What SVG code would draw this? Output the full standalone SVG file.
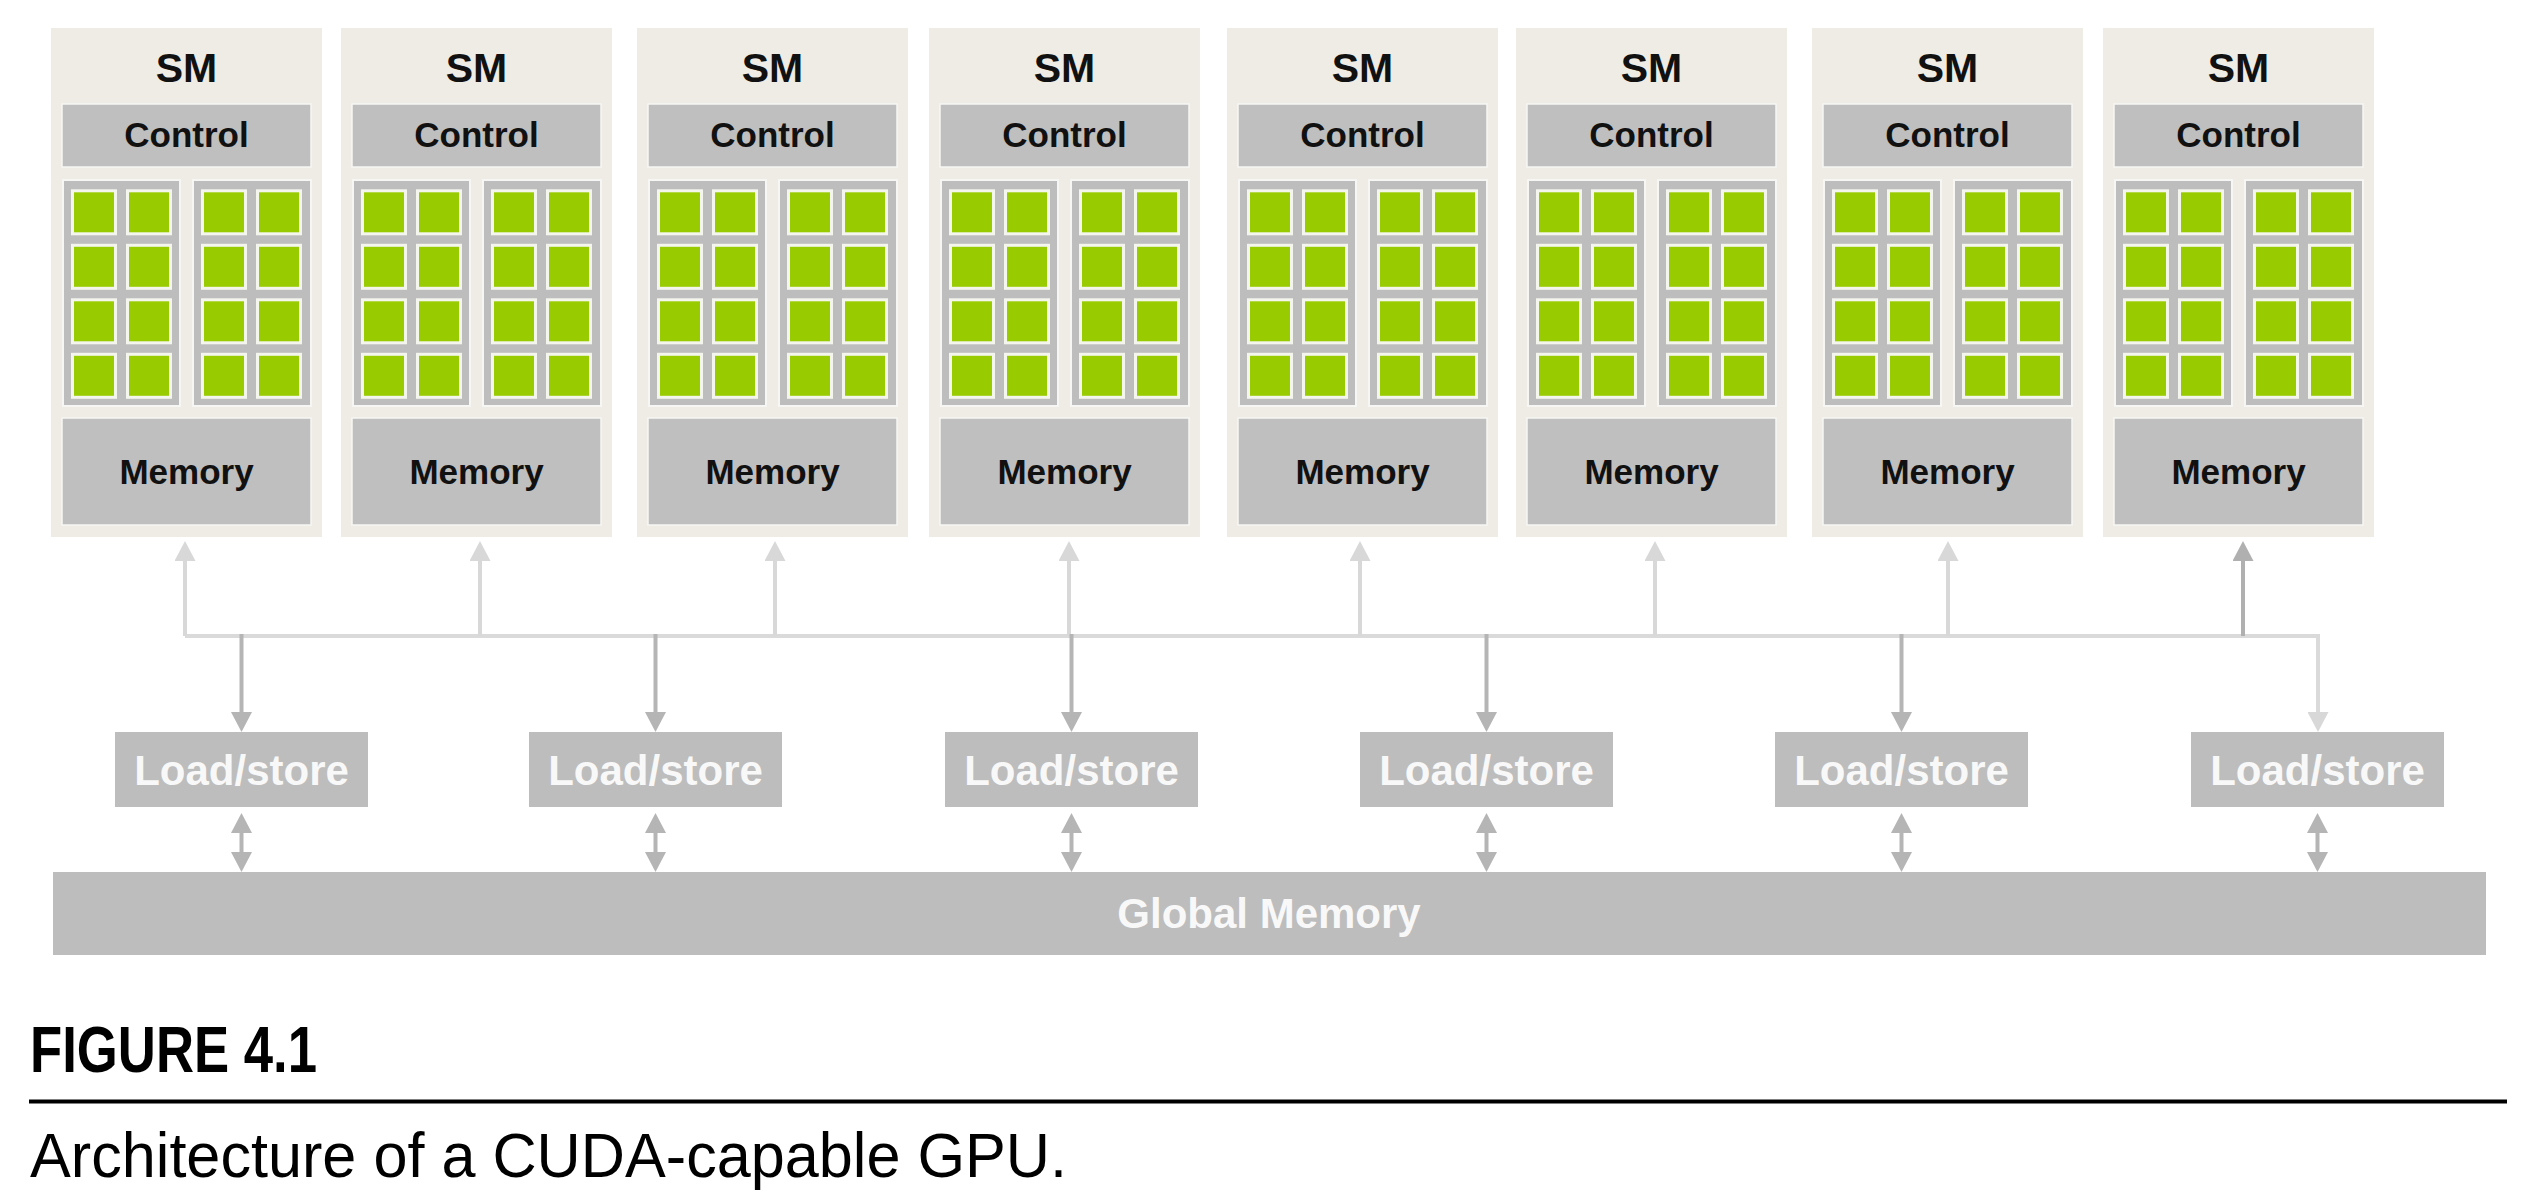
<svg xmlns="http://www.w3.org/2000/svg" xmlns:xlink="http://www.w3.org/1999/xlink" width="2532" height="1199" viewBox="0 0 2532 1199">
<style>
.smbg{fill:#eeece4;}
.blk{fill:#bfbfbf;stroke:#f6f6f4;stroke-width:1.5;}
.grp{fill:#bdbdbd;stroke:#f6f6f4;stroke-width:2;}
.core{fill:#99cc00;stroke:#f4f6ee;stroke-width:3;}
.t{font-family:"Liberation Sans",Arial,sans-serif;font-weight:bold;text-anchor:middle;fill:#111111;}
.sm{font-size:41px;}
.lbl{font-size:35px;}
.ls{fill:#bdbdbd;}
.lst{font-family:"Liberation Sans",Arial,sans-serif;font-weight:bold;font-size:42px;text-anchor:middle;fill:#f8f8f8;}
.up{stroke:#d8d8d8;stroke-width:4;fill:none;}
.updark{stroke:#b0b0b0;stroke-width:4;fill:none;}
.down{stroke:#b5b5b5;stroke-width:4;fill:none;}
.bus{stroke:#dadada;stroke-width:4;fill:none;}
.cap{font-family:"Liberation Sans",Arial,sans-serif;fill:#000000;}
</style>
<defs>
<marker id="ahLight" viewBox="0 0 20 21" refX="0" refY="10.5" markerWidth="20" markerHeight="21" markerUnits="userSpaceOnUse" orient="auto-start-reverse"><path d="M0,0 L20,10.5 L0,21 z" fill="#d8d8d8"/></marker>
<marker id="ahDark" viewBox="0 0 20 21" refX="0" refY="10.5" markerWidth="20" markerHeight="21" markerUnits="userSpaceOnUse" orient="auto-start-reverse"><path d="M0,0 L20,10.5 L0,21 z" fill="#b0b0b0"/></marker>
<marker id="ahMid" viewBox="0 0 20 21" refX="0" refY="10.5" markerWidth="20" markerHeight="21" markerUnits="userSpaceOnUse" orient="auto-start-reverse"><path d="M0,0 L20,10.5 L0,21 z" fill="#b5b5b5"/></marker>
<g id="coreCol">
<rect class="core" x="0" y="190.8" width="43" height="43"/>
<rect class="core" x="0" y="245.3" width="43" height="43"/>
<rect class="core" x="0" y="299.8" width="43" height="43"/>
<rect class="core" x="0" y="354.3" width="43" height="43"/>
</g>
<g id="cores">
<rect class="grp" x="12" y="180" width="117" height="226"/>
<rect class="grp" x="142" y="180" width="118" height="226"/>
<use xlink:href="#coreCol" x="21.5"/>
<use xlink:href="#coreCol" x="76.5"/>
<use xlink:href="#coreCol" x="151.5"/>
<use xlink:href="#coreCol" x="206.5"/>
</g>
</defs>
<rect x="0" y="0" width="2532" height="1199" fill="#ffffff"/>

<g id="sm1" transform="translate(51,0)">
<rect class="smbg" x="0" y="28" width="271" height="509"/>
<text class="t sm" x="135.5" y="82">SM</text>
<rect class="blk" x="11" y="104" width="249" height="63"/>
<text class="t lbl" x="135.5" y="147">Control</text>
<use xlink:href="#cores"/>
<rect class="blk" x="11" y="418" width="249" height="107"/>
<text class="t lbl" x="135.5" y="484">Memory</text>
</g>
<g id="sm2" transform="translate(341,0)">
<rect class="smbg" x="0" y="28" width="271" height="509"/>
<text class="t sm" x="135.5" y="82">SM</text>
<rect class="blk" x="11" y="104" width="249" height="63"/>
<text class="t lbl" x="135.5" y="147">Control</text>
<use xlink:href="#cores"/>
<rect class="blk" x="11" y="418" width="249" height="107"/>
<text class="t lbl" x="135.5" y="484">Memory</text>
</g>
<g id="sm3" transform="translate(637,0)">
<rect class="smbg" x="0" y="28" width="271" height="509"/>
<text class="t sm" x="135.5" y="82">SM</text>
<rect class="blk" x="11" y="104" width="249" height="63"/>
<text class="t lbl" x="135.5" y="147">Control</text>
<use xlink:href="#cores"/>
<rect class="blk" x="11" y="418" width="249" height="107"/>
<text class="t lbl" x="135.5" y="484">Memory</text>
</g>
<g id="sm4" transform="translate(929,0)">
<rect class="smbg" x="0" y="28" width="271" height="509"/>
<text class="t sm" x="135.5" y="82">SM</text>
<rect class="blk" x="11" y="104" width="249" height="63"/>
<text class="t lbl" x="135.5" y="147">Control</text>
<use xlink:href="#cores"/>
<rect class="blk" x="11" y="418" width="249" height="107"/>
<text class="t lbl" x="135.5" y="484">Memory</text>
</g>
<g id="sm5" transform="translate(1227,0)">
<rect class="smbg" x="0" y="28" width="271" height="509"/>
<text class="t sm" x="135.5" y="82">SM</text>
<rect class="blk" x="11" y="104" width="249" height="63"/>
<text class="t lbl" x="135.5" y="147">Control</text>
<use xlink:href="#cores"/>
<rect class="blk" x="11" y="418" width="249" height="107"/>
<text class="t lbl" x="135.5" y="484">Memory</text>
</g>
<g id="sm6" transform="translate(1516,0)">
<rect class="smbg" x="0" y="28" width="271" height="509"/>
<text class="t sm" x="135.5" y="82">SM</text>
<rect class="blk" x="11" y="104" width="249" height="63"/>
<text class="t lbl" x="135.5" y="147">Control</text>
<use xlink:href="#cores"/>
<rect class="blk" x="11" y="418" width="249" height="107"/>
<text class="t lbl" x="135.5" y="484">Memory</text>
</g>
<g id="sm7" transform="translate(1812,0)">
<rect class="smbg" x="0" y="28" width="271" height="509"/>
<text class="t sm" x="135.5" y="82">SM</text>
<rect class="blk" x="11" y="104" width="249" height="63"/>
<text class="t lbl" x="135.5" y="147">Control</text>
<use xlink:href="#cores"/>
<rect class="blk" x="11" y="418" width="249" height="107"/>
<text class="t lbl" x="135.5" y="484">Memory</text>
</g>
<g id="sm8" transform="translate(2103,0)">
<rect class="smbg" x="0" y="28" width="271" height="509"/>
<text class="t sm" x="135.5" y="82">SM</text>
<rect class="blk" x="11" y="104" width="249" height="63"/>
<text class="t lbl" x="135.5" y="147">Control</text>
<use xlink:href="#cores"/>
<rect class="blk" x="11" y="418" width="249" height="107"/>
<text class="t lbl" x="135.5" y="484">Memory</text>
</g>

<g id="connectors">
<path class="bus" d="M185,636 H2318 V712" marker-end="url(#ahLight)"/>
<line class="up" x1="185" y1="636" x2="185" y2="561" marker-end="url(#ahLight)"/>
<line class="up" x1="480" y1="636" x2="480" y2="561" marker-end="url(#ahLight)"/>
<line class="up" x1="775" y1="636" x2="775" y2="561" marker-end="url(#ahLight)"/>
<line class="up" x1="1069" y1="636" x2="1069" y2="561" marker-end="url(#ahLight)"/>
<line class="up" x1="1360" y1="636" x2="1360" y2="561" marker-end="url(#ahLight)"/>
<line class="up" x1="1655" y1="636" x2="1655" y2="561" marker-end="url(#ahLight)"/>
<line class="up" x1="1948" y1="636" x2="1948" y2="561" marker-end="url(#ahLight)"/>
<line class="updark" x1="2243" y1="636" x2="2243" y2="561" marker-end="url(#ahDark)"/>
<line class="down" x1="241.5" y1="634" x2="241.5" y2="712" marker-end="url(#ahMid)"/>
<line class="down" x1="655.5" y1="634" x2="655.5" y2="712" marker-end="url(#ahMid)"/>
<line class="down" x1="1071.5" y1="634" x2="1071.5" y2="712" marker-end="url(#ahMid)"/>
<line class="down" x1="1486.5" y1="634" x2="1486.5" y2="712" marker-end="url(#ahMid)"/>
<line class="down" x1="1901.5" y1="634" x2="1901.5" y2="712" marker-end="url(#ahMid)"/>
<line class="down" x1="241.5" y1="833" x2="241.5" y2="852" marker-start="url(#ahMid)" marker-end="url(#ahMid)"/>
<line class="down" x1="655.5" y1="833" x2="655.5" y2="852" marker-start="url(#ahMid)" marker-end="url(#ahMid)"/>
<line class="down" x1="1071.5" y1="833" x2="1071.5" y2="852" marker-start="url(#ahMid)" marker-end="url(#ahMid)"/>
<line class="down" x1="1486.5" y1="833" x2="1486.5" y2="852" marker-start="url(#ahMid)" marker-end="url(#ahMid)"/>
<line class="down" x1="1901.5" y1="833" x2="1901.5" y2="852" marker-start="url(#ahMid)" marker-end="url(#ahMid)"/>
<line class="down" x1="2317.5" y1="833" x2="2317.5" y2="852" marker-start="url(#ahMid)" marker-end="url(#ahMid)"/>
</g>

<g id="ls1"><rect class="ls" x="115" y="732" width="253" height="75"/><text class="lst" x="241.5" y="785">Load/store</text></g>
<g id="ls2"><rect class="ls" x="529" y="732" width="253" height="75"/><text class="lst" x="655.5" y="785">Load/store</text></g>
<g id="ls3"><rect class="ls" x="945" y="732" width="253" height="75"/><text class="lst" x="1071.5" y="785">Load/store</text></g>
<g id="ls4"><rect class="ls" x="1360" y="732" width="253" height="75"/><text class="lst" x="1486.5" y="785">Load/store</text></g>
<g id="ls5"><rect class="ls" x="1775" y="732" width="253" height="75"/><text class="lst" x="1901.5" y="785">Load/store</text></g>
<g id="ls6"><rect class="ls" x="2191" y="732" width="253" height="75"/><text class="lst" x="2317.5" y="785">Load/store</text></g>

<g id="global-memory"><rect class="ls" x="53" y="872" width="2433" height="83"/><text class="lst" x="1269" y="928">Global Memory</text></g>

<g id="caption">
<text class="cap" x="30" y="1072" font-size="64" font-weight="bold" textLength="287" lengthAdjust="spacingAndGlyphs">FIGURE 4.1</text>
<line x1="29" y1="1101.5" x2="2507" y2="1101.5" stroke="#000000" stroke-width="4"/>
<text class="cap" x="30" y="1177" font-size="63" textLength="1037" lengthAdjust="spacingAndGlyphs">Architecture of a CUDA-capable GPU.</text>
</g>
</svg>
